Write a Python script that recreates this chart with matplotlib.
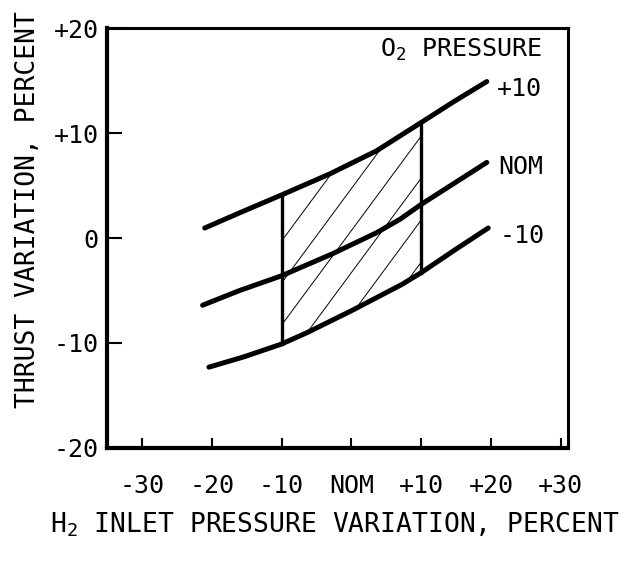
import numpy as np
import matplotlib.pyplot as plt
from matplotlib.patches import Polygon

plt.rcParams['font.family'] = 'DejaVu Sans Mono'
plt.rcParams['mathtext.fontset'] = 'custom'
plt.rcParams['mathtext.rm'] = 'DejaVu Sans Mono'
plt.rcParams['mathtext.it'] = 'DejaVu Sans Mono'
plt.rcParams['mathtext.bf'] = 'DejaVu Sans Mono'

# thrust variation vs H2 inlet pressure variation, one curve per O2 pressure
h2_plus = [-21.0, -16.0, -10.0, -3.1, 3.6, 10.0, 14.7, 19.4]
thrust_plus = [0.95, 2.4, 4.1, 6.1, 8.3, 11.0, 13.0, 14.9]
h2_nom = [-21.3, -16.0, -10.0, -2.7, 3.6, 7.0, 10.0, 14.7, 19.4]
thrust_nom = [-6.4, -5.0, -3.6, -1.5, 0.5, 1.8, 3.2, 5.2, 7.2]
h2_minus = [-20.4, -15.3, -10.0, -6.3, 0.1, 7.3, 10.0, 14.9, 19.6]
thrust_minus = [-12.3, -11.3, -10.1, -9.0, -6.9, -4.4, -3.3, -1.1, 0.95]
curve_names = ['+10', 'NOM', '-10']

# H2 tolerance band (percent)
band = [-10, 10]

xticks = [-30, -20, -10, 0, 10, 20, 30]
xticklabels = ['-30', '-20', '-10', 'NOM', '+10', '+20', '+30']
yticks = [-20, -10, 0, 10, 20]
yticklabels = ['-20', '-10', '0', '+10', '+20']

fig = plt.figure(figsize=(6.33, 5.66), dpi=100)
ax = fig.add_axes([0.169, 0.2085, 0.728, 0.742])

curves = [(np.array(h2_plus), np.array(thrust_plus)),
          (np.array(h2_nom), np.array(thrust_nom)),
          (np.array(h2_minus), np.array(thrust_minus))]
offsets = [(7, -5), (8, -3), (8, -6)]

for (x, y), name, off in zip(curves, curve_names, offsets):
    ax.plot(x, y, color='black', lw=3.6, solid_capstyle='round',
            solid_joinstyle='round', zorder=4)
    ax.annotate(name, (x[-1], y[-1]), xytext=off, textcoords='offset points',
                ha='left', va='center', fontsize=18)

# shaded operating region between the +10 and -10 O2 curves
xp, yp = curves[0]
xm, ym = curves[2]
top = (xp >= band[0]) & (xp <= band[1])
bot = (xm >= band[0]) & (xm <= band[1])
verts = np.vstack([np.column_stack([xp[top], yp[top]]),
                   np.column_stack([xm[bot], ym[bot]])[::-1]])
region = Polygon(verts, closed=True, facecolor='none', edgecolor='none')
ax.add_patch(region)

for b in np.arange(-11.3, 13.0, 4.0):
    hx = np.array([-12.0, 12.0])
    line, = ax.plot(hx, 0.9 * hx + b, color='black', lw=0.7, zorder=2)
    line.set_clip_path(region)

for edge in band:
    y_hi = yp[xp == edge][0]
    y_lo = ym[xm == edge][0]
    ax.plot([edge, edge], [y_lo, y_hi], color='black', lw=2.4, zorder=3)

ax.text(0.944, 0.931, r'$\mathrm{O}_2$ PRESSURE', transform=ax.transAxes,
        ha='right', va='baseline', fontsize=18)

ax.set_xlim(-35, 31)
ax.set_ylim(-20, 20)
ax.set_xticks(xticks)
ax.set_xticklabels(xticklabels)
ax.set_yticks(yticks)
ax.set_yticklabels(yticklabels)
ax.tick_params(axis='x', direction='in', length=7, width=1.5, pad=19, labelsize=18)
ax.tick_params(axis='y', direction='in', length=11, width=1.5, pad=6, labelsize=18)

for side in ['left', 'bottom']:
    ax.spines[side].set_linewidth(3)
for side in ['top', 'right']:
    ax.spines[side].set_linewidth(2.2)

ax.set_ylabel('THRUST VARIATION, PERCENT', fontsize=19, va='center')
ax.yaxis.set_label_coords(-0.171, 0.567)
ax.set_xlabel(r'$\mathrm{H}_2$ INLET PRESSURE VARIATION, PERCENT', fontsize=19)
ax.xaxis.set_label_coords(0.495, -0.15)

fig.savefig('out.png', dpi=100)
